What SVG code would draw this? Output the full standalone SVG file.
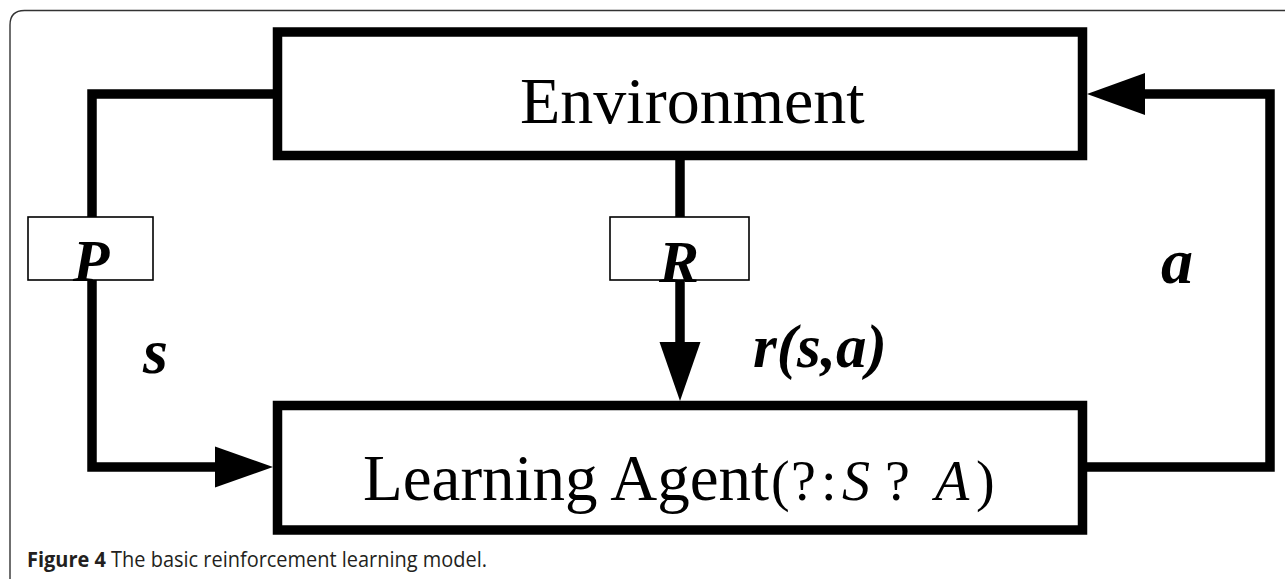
<svg xmlns="http://www.w3.org/2000/svg" width="1285" height="579" viewBox="0 0 1285 579">
<style>
.frame{fill:none;stroke:#333;stroke-width:1.4}
.box{fill:#fff;stroke:#000;stroke-width:9.5}
.small{fill:#fff;stroke:#000;stroke-width:1.6}
.wire{fill:none;stroke:#000;stroke-width:9.5;stroke-linejoin:miter}
.head{fill:#000}
.serif{font-family:"Liberation Serif","Times New Roman",serif;fill:#000}
.lbl{font-family:"Liberation Serif","Times New Roman",serif;font-style:italic;font-weight:bold;fill:#000}
.cap{font-family:"Open Sans","Noto Sans",sans-serif;font-size:21px;fill:#231f20}
</style>
<rect width="1285" height="579" fill="#fff"/>
<path class="frame" d="M10,600 V25 Q10,10.5 24.5,10.5 H1300"/>
<g id="connectors">
<path class="wire" d="M277.5,94 H92 V467 H216"/>
<polygon class="head" points="215,446.5 273,467 215,487.5"/>
<path class="wire" d="M680,160 V343"/>
<polygon class="head" points="659.5,342 700.5,342 680,401"/>
<path class="wire" d="M1082.5,467 H1270 V94 H1144"/>
<polygon class="head" points="1145,73 1145,115 1087,94"/>
</g>
<g id="environment">
<rect class="box" x="277.5" y="32" width="805" height="123.5"/>
<text class="serif" x="520" y="123" font-size="66">Environment</text>
</g>
<g id="agent">
<rect class="box" x="277.5" y="405.5" width="805" height="124.5"/>
<text class="serif" x="363" y="500" font-size="65">Learning Agent</text>
<text class="serif" font-size="56" y="500"><tspan x="771">(</tspan><tspan x="791">?</tspan><tspan x="821">:</tspan><tspan x="842" font-style="italic">S</tspan><tspan x="885">?</tspan><tspan x="935" font-style="italic">A</tspan><tspan x="976">)</tspan></text>
</g>
<g id="P">
<rect class="small" x="28" y="217" width="125" height="63"/>
<text class="lbl" x="91" y="281" font-size="60" text-anchor="middle">P</text>
</g>
<g id="R">
<rect class="small" x="610" y="217" width="139" height="63"/>
<text class="lbl" x="679" y="282" font-size="60" text-anchor="middle">R</text>
</g>
<g id="labels">
<text class="lbl" x="143" y="373" font-size="64">s</text>
<text class="lbl" x="1161" y="283" font-size="64">a</text>
<text class="lbl" x="753" y="367" font-size="61">r(s,a)</text>
</g>
<text class="cap" x="27" y="567" textLength="460" lengthAdjust="spacingAndGlyphs"><tspan font-weight="bold">Figure 4</tspan> The basic reinforcement learning model.</text>
</svg>
